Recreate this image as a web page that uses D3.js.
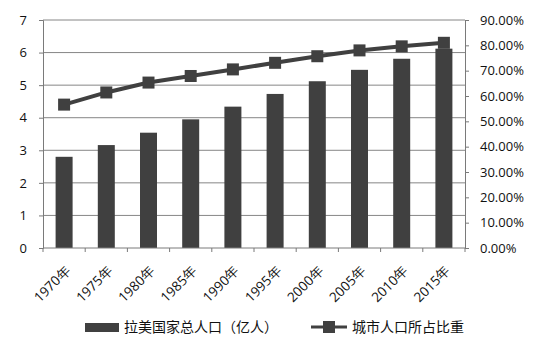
<!DOCTYPE html>
<html>
<head>
<meta charset="utf-8">
<script src="https://cdn.jsdelivr.net/npm/d3@7"></script>
<style>
  body { margin: 0; background: #fff; }
  svg text { font-family: "Open Sans", "Liberation Sans", sans-serif; fill: #111; }
  .cjk { font-family: "Noto Sans CJK SC", sans-serif; }
</style>
</head>
<body>
<div id="chart"></div>
<script>
// Data
const years = ["1970年", "1975年", "1980年", "1985年", "1990年", "1995年", "2000年", "2005年", "2010年", "2015年"];
const population = [2.80, 3.16, 3.54, 3.95, 4.34, 4.73, 5.12, 5.47, 5.81, 6.12];
const urbanShare = [0.566, 0.614, 0.653, 0.679, 0.705, 0.731, 0.757, 0.780, 0.796, 0.810];
const leftTicks = [0, 1, 2, 3, 4, 5, 6, 7];
const rightTicks = [0, 0.1, 0.2, 0.3, 0.4, 0.5, 0.6, 0.7, 0.8, 0.9];
const barLabel = "拉美国家总人口（亿人）";
const lineLabel = "城市人口所占比重";

const W = 556, H = 348;
const M = { top: 20, right: 91, bottom: 100, left: 43 };
const width = W - M.left - M.right;
const height = H - M.top - M.bottom;
const DARK = "#404040";

const svg = d3.select("#chart").append("svg")
    .attr("width", W).attr("height", H);
const g = svg.append("g").attr("transform", `translate(${M.left},${M.top})`);

const x = d3.scaleBand().domain(years).range([0, width]).padding(0);
const y = d3.scaleLinear().domain([0, 7]).range([height, 0]);
const y2 = d3.scaleLinear().domain([0, 0.9]).range([height, 0]);

// Gridlines
g.append("g")
    .selectAll("line")
    .data(leftTicks.slice(1))
    .join("line")
    .attr("x1", 0).attr("x2", width)
    .attr("y1", d => y(d)).attr("y2", d => y(d))
    .attr("stroke", "#868686").attr("stroke-width", 1);

// Bars
const barW = 17;
g.append("g")
    .selectAll("rect")
    .data(population)
    .join("rect")
    .attr("x", (d, i) => x(years[i]) + x.bandwidth() / 2 - barW / 2)
    .attr("y", d => y(d))
    .attr("width", barW)
    .attr("height", d => height - y(d))
    .attr("fill", DARK);

// Left axis
g.append("g")
    .call(d3.axisLeft(y).tickValues(leftTicks).tickSize(4).tickPadding(12).tickFormat(d3.format("d")))
    .call(a => a.selectAll("path, line").attr("stroke", "#7a7a7a"))
    .call(a => a.selectAll("text").attr("font-size", 13).attr("fill", "#111"));

// Right axis
g.append("g")
    .attr("transform", `translate(${width},0)`)
    .call(d3.axisRight(y2).tickValues(rightTicks).tickSize(4).tickPadding(11)
        .tickFormat(d => (d * 100).toFixed(2) + "%"))
    .call(a => a.selectAll("path, line").attr("stroke", "#7a7a7a"))
    .call(a => a.selectAll("text").attr("font-size", 13).attr("fill", "#111"));

// Bottom axis with ticks at category boundaries
const xa = g.append("g").attr("transform", `translate(0,${height})`);
xa.append("line").attr("x1", 0).attr("x2", width).attr("stroke", "#7a7a7a");
xa.selectAll(".tk")
    .data(d3.range(years.length + 1))
    .join("line")
    .attr("x1", i => i * x.step()).attr("x2", i => i * x.step())
    .attr("y1", 0).attr("y2", 4)
    .attr("stroke", "#7a7a7a");
xa.selectAll("text")
    .data(years)
    .join("text")
    .attr("transform", d => `translate(${x(d) + x.bandwidth() / 2 + 4},${20}) rotate(-45)`)
    .attr("text-anchor", "end")
    .attr("dy", "0.35em")
    .attr("font-size", 13.5)
    .text(d => d);

// Line + markers
const line = d3.line()
    .x((d, i) => x(years[i]) + x.bandwidth() / 2)
    .y(d => y2(d));
g.append("path")
    .datum(urbanShare)
    .attr("d", line)
    .attr("fill", "none")
    .attr("stroke", DARK)
    .attr("stroke-width", 4);
const mk = 12;
g.append("g")
    .selectAll("rect")
    .data(urbanShare)
    .join("rect")
    .attr("x", (d, i) => x(years[i]) + x.bandwidth() / 2 - mk / 2)
    .attr("y", d => y2(d) - mk / 2)
    .attr("width", mk).attr("height", mk)
    .attr("fill", DARK);

// Legend
const lg = svg.append("g").attr("transform", "translate(0,327)");
lg.append("rect").attr("x", 85).attr("y", -4).attr("width", 34).attr("height", 9).attr("fill", DARK);
lg.append("text").attr("class", "cjk").attr("x", 124).attr("dy", "0.35em")
    .attr("font-size", 14).text(barLabel);
lg.append("line").attr("x1", 311).attr("x2", 347).attr("stroke", DARK).attr("stroke-width", 3);
lg.append("rect").attr("x", 323).attr("y", -6).attr("width", 12).attr("height", 12).attr("fill", DARK);
lg.append("text").attr("class", "cjk").attr("x", 352).attr("dy", "0.35em")
    .attr("font-size", 14).text(lineLabel);
</script>
</body>
</html>
